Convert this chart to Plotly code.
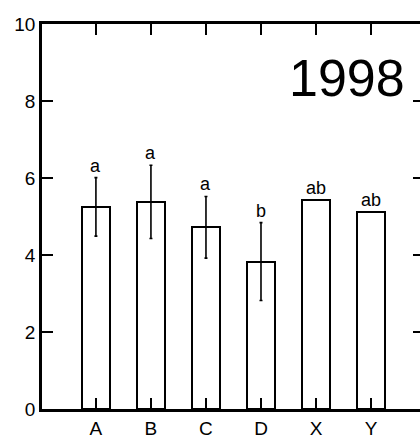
import plotly.graph_objects as go

categories = ["A", "B", "C", "D", "X", "Y"]
means = [5.25, 5.38, 4.72, 3.83, 5.43, 5.12]
errors = [0.76, 0.95, 0.80, 1.01, None, None]
letters = ["a", "a", "a", "b", "ab", "ab"]
y_ticks = [0, 2, 4, 6, 8, 10]
year_label = "1998"

FONT = "Liberation Sans, Arial, sans-serif"

err_vals = [e if e is not None else 0 for e in errors]
xs = list(range(len(categories)))

fig = go.Figure()
fig.add_trace(go.Bar(
    x=xs, y=means, width=0.52,
    marker=dict(color="white", line=dict(color="black", width=2)),
    error_y=dict(type="data", array=err_vals, visible=True,
                 color="black", thickness=1.6, width=1.5),
    showlegend=False, hoverinfo="skip",
))
# dummy trace for right-side tick axis
fig.add_trace(go.Scatter(x=xs, y=[None] * len(xs), yaxis="y2",
                         mode="markers", showlegend=False, hoverinfo="skip"))

for i, (m, e, t) in enumerate(zip(means, errors, letters)):
    top = m + (e if e is not None else 0)
    fig.add_annotation(x=i, y=top, text=t, showarrow=False, xref="x", yref="y",
                       yanchor="bottom", yshift=0,
                       font=dict(family=FONT, size=18, color="black"))

fig.add_annotation(x=0.807, y=0.861, xref="paper", yref="paper", text=year_label,
                   showarrow=False, xanchor="center", yanchor="middle",
                   font=dict(family=FONT, size=52, color="black"))

fig.update_layout(
    width=420, height=439,
    margin=dict(l=42, r=0, t=24, b=30, autoexpand=False),
    paper_bgcolor="white", plot_bgcolor="white",
    bargap=0,
    xaxis=dict(
        range=[-0.98, 5.89], tickmode="array", tickvals=xs, ticktext=categories,
        ticks="inside", ticklen=11, tickwidth=1.8, tickcolor="black",
        showline=True, linewidth=2.5, linecolor="black", mirror="ticks",
        showgrid=False, zeroline=False, automargin=False,
        tickfont=dict(family=FONT, size=19, color="black"),
    ),
    yaxis=dict(
        range=[0, 10], tickmode="array", tickvals=y_ticks,
        ticks="inside", ticklen=11, tickwidth=1.8, tickcolor="black",
        showline=True, linewidth=2.5, linecolor="black", mirror=False,
        showgrid=False, zeroline=False, automargin=False,
        tickfont=dict(family=FONT, size=19, color="black"),
    ),
    yaxis2=dict(
        range=[0, 10], overlaying="y", side="right", tickmode="array",
        tickvals=y_ticks, ticks="inside", ticklen=7, tickwidth=1.8,
        tickcolor="black", showline=False, showgrid=False, zeroline=False,
        showticklabels=False, automargin=False,
    ),
)

fig.write_html("out.html", config={"displayModeBar": False},
               post_script="document.body.style.margin='0';document.body.style.overflow='hidden';")
